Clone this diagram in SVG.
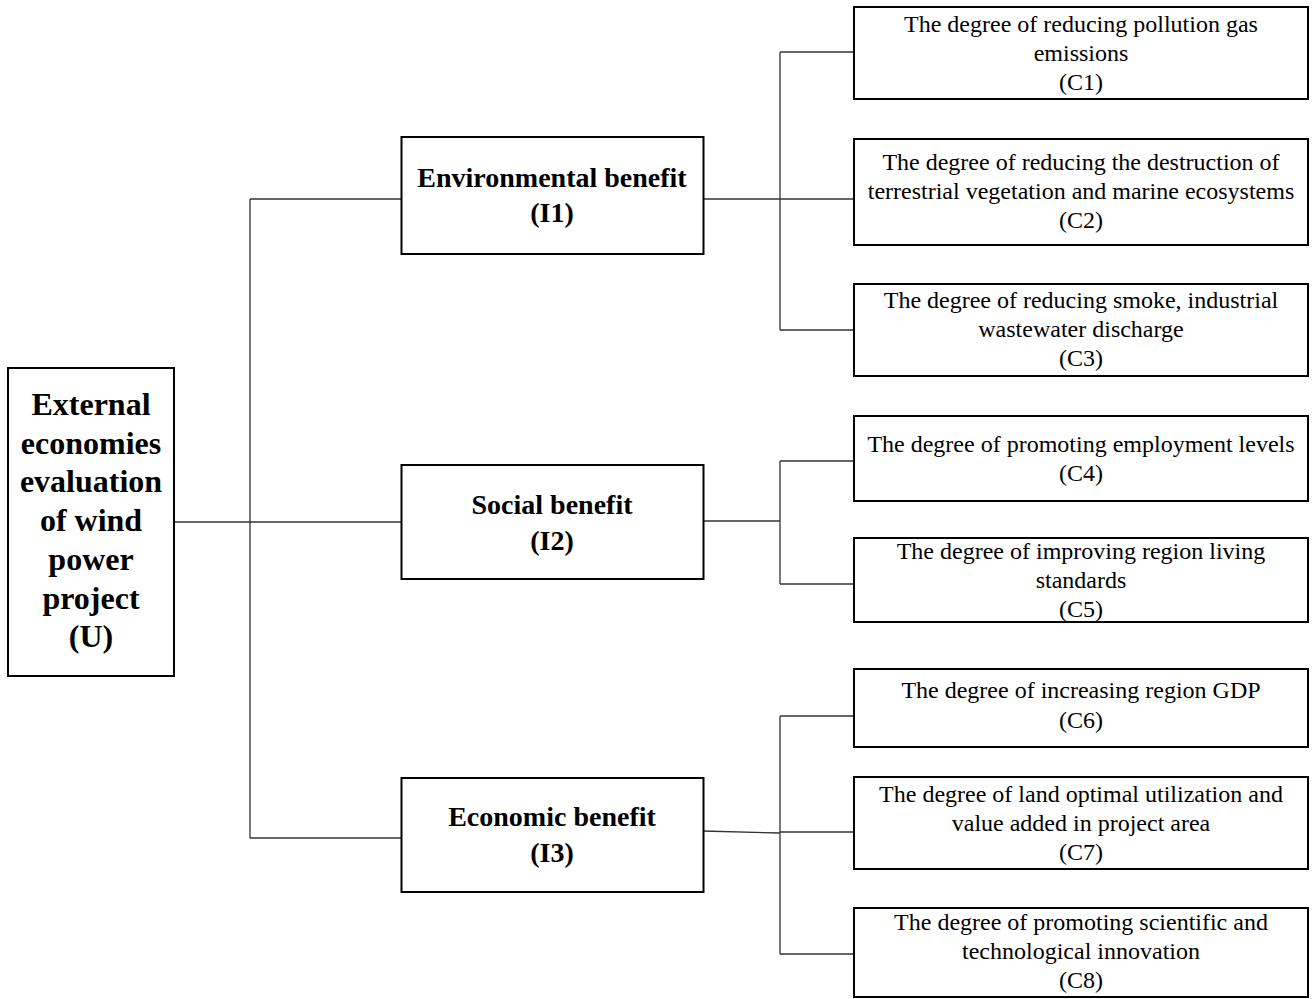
<svg xmlns="http://www.w3.org/2000/svg" width="1313" height="999" viewBox="0 0 1313 999">
<style>
.box{fill:#fff;stroke:#000;stroke-width:2}
.b{font-family:"Liberation Serif","Times New Roman",serif;font-weight:bold;text-anchor:middle;fill:#000}
.u{font-size:32px}
.i{font-size:28px}
.c{font-family:"Liberation Serif","Times New Roman",serif;font-size:24px;text-anchor:middle;fill:#000}
.con{fill:none;stroke:#333;stroke-width:1.3}
</style>
<rect width="1313" height="999" fill="#fff"/>
<g id="connectors">
<path class="con" d="M174,522H250M250,199V838M250,199H401M250,522H401M250,838H401"/>
<path class="con" d="M703,199H780M780,52V330M780,52H854M780,199H854M780,330H854"/>
<path class="con" d="M703,521H780M780,461V584M780,461H854M780,584H854"/>
<path class="con" d="M703,831L780,833M780,716V954M780,716H854M780,832H854M780,954H854"/>
</g>
<g id="U">
<rect class="box" x="8" y="368" width="166" height="308"/>
<text class="b u" x="91" y="415">External</text>
<text class="b u" x="91" y="453.7">economies</text>
<text class="b u" x="91" y="492.4">evaluation</text>
<text class="b u" x="91" y="531">of wind</text>
<text class="b u" x="91" y="569.8">power</text>
<text class="b u" x="91" y="608.5">project</text>
<text class="b u" x="91" y="647.2">(U)</text>
</g>
<g id="I1">
<rect class="box" x="401.5" y="137" width="302" height="117"/>
<text class="b i" x="552" y="187">Environmental benefit</text>
<text class="b i" x="552" y="222">(I1)</text>
</g>
<g id="I2">
<rect class="box" x="401.5" y="465" width="302" height="114"/>
<text class="b i" x="552" y="514">Social benefit</text>
<text class="b i" x="552" y="550">(I2)</text>
</g>
<g id="I3">
<rect class="box" x="401.5" y="778" width="302" height="114"/>
<text class="b i" x="552" y="826">Economic benefit</text>
<text class="b i" x="552" y="862">(I3)</text>
</g>
<g id="C1">
<rect class="box" x="854" y="7" width="454" height="92"/>
<text class="c" x="1081" y="32">The degree of reducing pollution gas</text>
<text class="c" x="1081" y="61">emissions</text>
<text class="c" x="1081" y="90">(C1)</text>
</g>
<g id="C2">
<rect class="box" x="854" y="139" width="454" height="106"/>
<text class="c" x="1081" y="170">The degree of reducing the destruction of</text>
<text class="c" x="1081" y="199">terrestrial vegetation and marine ecosystems</text>
<text class="c" x="1081" y="228">(C2)</text>
</g>
<g id="C3">
<rect class="box" x="854" y="284" width="454" height="92"/>
<text class="c" x="1081" y="308">The degree of reducing smoke, industrial</text>
<text class="c" x="1081" y="337">wastewater discharge</text>
<text class="c" x="1081" y="366">(C3)</text>
</g>
<g id="C4">
<rect class="box" x="854" y="416" width="454" height="85"/>
<text class="c" x="1081" y="452">The degree of promoting employment levels</text>
<text class="c" x="1081" y="481">(C4)</text>
</g>
<g id="C5">
<rect class="box" x="854" y="538" width="454" height="84"/>
<text class="c" x="1081" y="559">The degree of improving region living</text>
<text class="c" x="1081" y="588">standards</text>
<text class="c" x="1081" y="617">(C5)</text>
</g>
<g id="C6">
<rect class="box" x="854" y="669" width="454" height="78"/>
<text class="c" x="1081" y="698">The degree of increasing region GDP</text>
<text class="c" x="1081" y="728">(C6)</text>
</g>
<g id="C7">
<rect class="box" x="854" y="777" width="454" height="92"/>
<text class="c" x="1081" y="802">The degree of land optimal utilization and</text>
<text class="c" x="1081" y="831">value added in project area</text>
<text class="c" x="1081" y="860">(C7)</text>
</g>
<g id="C8">
<rect class="box" x="854" y="908" width="454" height="89"/>
<text class="c" x="1081" y="930">The degree of promoting scientific and</text>
<text class="c" x="1081" y="959">technological innovation</text>
<text class="c" x="1081" y="988">(C8)</text>
</g>
</svg>
